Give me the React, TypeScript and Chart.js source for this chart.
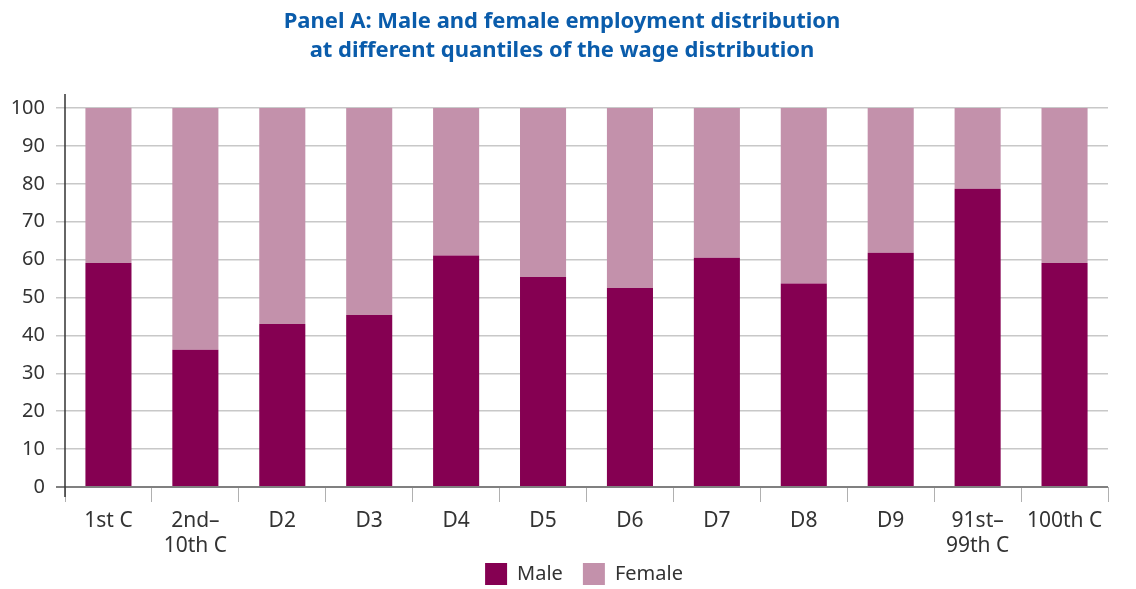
import React, { useEffect, useRef } from "react";
import { Chart, registerables } from "chart.js";

Chart.register(...registerables);

const categories: (string | string[])[] = [
  "1st C",
  ["2nd–", "10th C"],
  "D2",
  "D3",
  "D4",
  "D5",
  "D6",
  "D7",
  "D8",
  "D9",
  ["91st–", "99th C"],
  "100th C",
];

const maleValues = [59.1, 36.2, 43.0, 45.4, 61.1, 55.4, 52.5, 60.5, 53.7, 61.8, 78.7, 59.1];
const femaleValues = maleValues.map((v) => +(100 - v).toFixed(1));

const titleLines = [
  "Panel A: Male and female employment distribution",
  "at different quantiles of the wage distribution",
];

const FONT = "'Noto Sans', 'Open Sans', sans-serif";

const layoutTweaks = {
  id: "layoutTweaks",
  afterLayout(chart: any) {
    const lg = chart.legend;
    if (lg) {
      lg.left += 30;
      lg.right += 30;
      lg.top -= 20;
      lg.bottom = chart.height;
      lg.height = lg.bottom - lg.top;
    }
    const tb = chart.titleBlock;
    if (tb) {
      tb.left += 8;
      tb.right += 8;
    }
  },
  afterDatasetsDraw(chart: any) {
    const { ctx, chartArea } = chart;
    ctx.save();
    ctx.strokeStyle = "#333333";
    ctx.lineWidth = 1.5;
    ctx.beginPath();
    ctx.moveTo(chartArea.left, chartArea.top - 14);
    ctx.lineTo(chartArea.left, chartArea.bottom + 10);
    ctx.stroke();
    ctx.restore();
  },
};

export default function App() {
  const ref = useRef<HTMLCanvasElement | null>(null);

  useEffect(() => {
    if (!ref.current) return;
    const chart = new Chart(ref.current, {
      type: "bar",
      data: {
        labels: categories,
        datasets: [
          {
            label: "Male",
            data: maleValues,
            backgroundColor: "#850052",
            categoryPercentage: 0.53,
            barPercentage: 1,
          },
          {
            label: "Female",
            data: femaleValues,
            backgroundColor: "#c391ab",
            categoryPercentage: 0.53,
            barPercentage: 1,
          },
        ],
      },
      plugins: [layoutTweaks],
      options: {
        responsive: false,
        animation: false,
        layout: { padding: { left: 0, right: 28, top: 0, bottom: 0 } },
        plugins: {
          title: {
            display: true,
            text: titleLines,
            color: "#0a5cab",
            font: { family: FONT, size: 22, weight: "bold", lineHeight: 1.32 },
            padding: { top: 7, bottom: 43 },
          },
          legend: {
            position: "bottom",
            maxHeight: 26,
            labels: {
              color: "#333333",
              font: { family: FONT, size: 20 },
              boxWidth: 22,
              boxHeight: 22,
              padding: 20,
            },
          },
          tooltip: { enabled: false },
        },
        scales: {
          x: {
            stacked: true,
            afterFit(scale: any) {
              scale.height = 76;
            },
            grid: {
              offset: true,
              drawOnChartArea: false,
              drawTicks: true,
              tickLength: 15,
              color: "#b0b0b0",
              lineWidth: 1,
            },
            border: { display: false },
            ticks: {
              color: "#333333",
              font: { family: FONT, size: 21, lineHeight: 1.2 },
              padding: 6,
              maxRotation: 0,
              autoSkip: false,
            },
          },
          y: {
            stacked: true,
            min: 0,
            max: 100,
            afterFit(scale: any) {
              scale.width = 65;
            },
            ticks: {
              stepSize: 10,
              color: "#333333",
              font: { family: FONT, size: 20 },
              padding: 11,
            },
            grid: {
              color: (ctx: any) => (ctx.tick && ctx.tick.value === 0 ? "#808080" : "#c8c8c8"),
              lineWidth: (ctx: any) => (ctx.tick && ctx.tick.value === 0 ? 2 : 1.5),
              tickLength: 9,
            },
            border: { display: false },
          },
        },
      },
    });
    return () => chart.destroy();
  }, []);

  return (
    <div style={{ position: "fixed", left: 0, top: 0, width: 1136, height: 589, background: "#fff" }}>
      <canvas ref={ref} width={1136} height={589} style={{ width: 1136, height: 589 }} />
    </div>
  );
}
